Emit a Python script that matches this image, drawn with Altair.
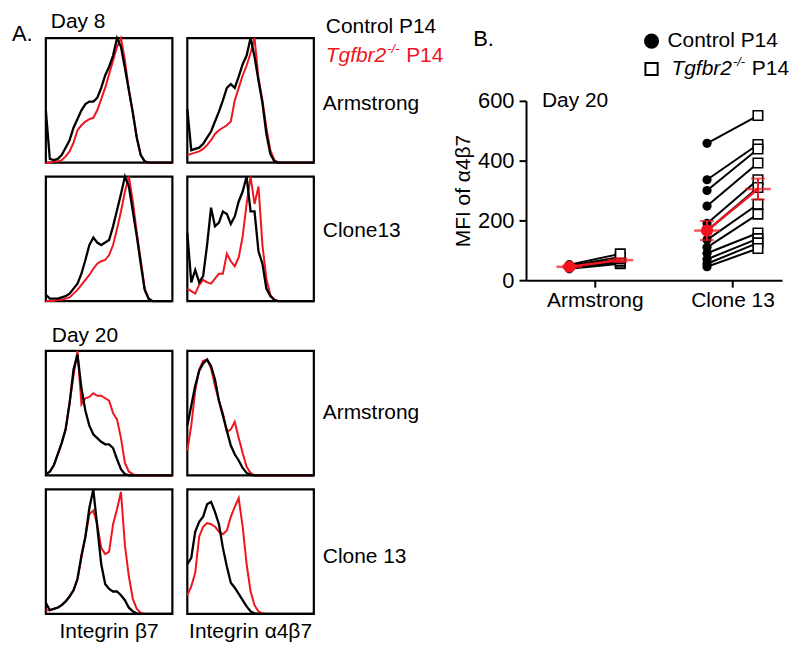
import altair as alt
import pandas as pd

FONT = "Liberation Sans"
RED = "#f0141e"
W, H = 127, 125
FS = 21

# ---------------- Panel A: histogram curves (fraction of panel max), 33 bins ----------------
bins = list(range(33))

d8_b7_arm_ctrl = [0.42, 0.03, 0.02, 0.03, 0.06, 0.12, 0.18, 0.28, 0.35, 0.42, 0.47, 0.49, 0.49, 0.52, 0.60, 0.70,
                  0.77, 0.86, 1.00, 0.93, 0.76, 0.58, 0.40, 0.20, 0.06, 0.01, 0, 0, 0, 0, 0, 0, 0]
d8_b7_arm_ko = [0, 0, 0.01, 0.01, 0.02, 0.05, 0.09, 0.16, 0.26, 0.30, 0.33, 0.35, 0.36, 0.42, 0.51, 0.60,
                0.71, 0.82, 0.93, 1.00, 0.82, 0.58, 0.40, 0.20, 0.06, 0.01, 0, 0, 0, 0, 0, 0, 0]

d8_a4b7_arm_ctrl = [0.43, 0.10, 0.11, 0.12, 0.15, 0.20, 0.25, 0.33, 0.41, 0.50, 0.60, 0.63, 0.60, 0.69, 0.79, 0.86,
                    1.00, 0.85, 0.66, 0.48, 0.23, 0.07, 0.01, 0, 0, 0, 0, 0, 0, 0, 0, 0, 0]
d8_a4b7_arm_ko = [0.06, 0.07, 0.08, 0.09, 0.11, 0.14, 0.18, 0.23, 0.26, 0.28, 0.30, 0.33, 0.50, 0.60, 0.70, 0.78,
                  0.88, 1.00, 0.68, 0.50, 0.28, 0.10, 0.02, 0, 0, 0, 0, 0, 0, 0, 0, 0, 0]

d8_b7_c13_ctrl = [0.05, 0.02, 0.02, 0.02, 0.03, 0.04, 0.06, 0.10, 0.14, 0.22, 0.33, 0.45, 0.51, 0.47, 0.45, 0.47,
                  0.49, 0.60, 0.73, 0.86, 1.00, 0.92, 0.72, 0.52, 0.30, 0.09, 0.02, 0, 0, 0, 0, 0, 0]
d8_b7_c13_ko = [0, 0, 0, 0.01, 0.01, 0.02, 0.03, 0.06, 0.09, 0.13, 0.17, 0.21, 0.26, 0.30, 0.32, 0.33,
                0.37, 0.45, 0.58, 0.72, 0.88, 1.00, 0.80, 0.55, 0.33, 0.10, 0.02, 0, 0, 0, 0, 0, 0]

d8_a4b7_c13_ctrl = [0.55, 0.15, 0.25, 0.15, 0.20, 0.45, 0.75, 0.60, 0.63, 0.72, 0.70, 0.62, 0.68, 0.80, 0.88, 1.00,
                    0.72, 0.72, 0.40, 0.30, 0.10, 0.04, 0.01, 0, 0, 0, 0, 0, 0, 0, 0, 0, 0]
d8_a4b7_c13_ko = [0.10, 0.08, 0.06, 0.13, 0.17, 0.15, 0.14, 0.18, 0.22, 0.22, 0.38, 0.32, 0.28, 0.35, 0.52, 0.78,
                  1.00, 0.78, 0.92, 0.45, 0.18, 0.05, 0.01, 0, 0, 0, 0, 0, 0, 0, 0, 0, 0]

d20_b7_arm_ctrl = [0.01, 0.03, 0.08, 0.17, 0.26, 0.37, 0.58, 0.85, 0.97, 0.70, 0.52, 0.40, 0.33, 0.30, 0.27, 0.25,
                   0.25, 0.22, 0.13, 0.05, 0.01, 0, 0, 0, 0, 0, 0, 0, 0, 0, 0, 0, 0]
d20_b7_arm_ko = [0.01, 0.03, 0.08, 0.17, 0.26, 0.37, 0.58, 0.80, 1.00, 0.57, 0.62, 0.63, 0.66, 0.64, 0.64, 0.62,
                 0.60, 0.50, 0.45, 0.30, 0.10, 0.03, 0.01, 0, 0, 0, 0, 0, 0, 0, 0, 0, 0]

d20_a4b7_arm_ctrl = [0.40, 0.56, 0.72, 0.84, 0.90, 0.93, 0.88, 0.77, 0.60, 0.48, 0.36, 0.24, 0.17, 0.12, 0.06, 0.02,
                     0.005, 0, 0, 0, 0, 0, 0, 0, 0, 0, 0, 0, 0, 0, 0, 0, 0]
d20_a4b7_arm_ko = [0.20, 0.40, 0.68, 0.85, 0.92, 0.93, 0.86, 0.72, 0.60, 0.50, 0.35, 0.37, 0.43, 0.30, 0.18, 0.07,
                   0.02, 0, 0, 0, 0, 0, 0, 0, 0, 0, 0, 0, 0, 0, 0, 0, 0]

d20_b7_c13_ctrl = [0.09, 0.03, 0.04, 0.05, 0.07, 0.10, 0.14, 0.19, 0.28, 0.47, 0.62, 0.85, 1.00, 0.70, 0.40, 0.24,
                   0.20, 0.18, 0.18, 0.15, 0.11, 0.05, 0.02, 0.005, 0, 0, 0, 0, 0, 0, 0, 0, 0]
d20_b7_c13_ko = [0.03, 0.03, 0.04, 0.05, 0.07, 0.10, 0.14, 0.19, 0.28, 0.45, 0.62, 0.80, 0.83, 0.72, 0.53, 0.48,
                 0.50, 0.72, 0.84, 0.98, 0.55, 0.30, 0.12, 0.04, 0.01, 0, 0, 0, 0, 0, 0, 0, 0]

d20_a4b7_c13_ctrl = [0.40, 0.45, 0.66, 0.74, 0.78, 0.88, 0.90, 0.82, 0.72, 0.53, 0.38, 0.25, 0.21, 0.16, 0.11, 0.06,
                     0.02, 0.005, 0, 0, 0, 0, 0, 0, 0, 0, 0, 0, 0, 0, 0, 0, 0]
d20_a4b7_c13_ko = [0.15, 0.22, 0.33, 0.62, 0.70, 0.73, 0.72, 0.70, 0.66, 0.64, 0.67, 0.78, 0.86, 0.93, 0.70, 0.40,
                   0.18, 0.07, 0.02, 0.005, 0, 0, 0, 0, 0, 0, 0, 0, 0, 0, 0, 0, 0]

# ---------------- Panel B: MFI of a4b7, Day 20 ----------------
groups = ["Armstrong", "Clone 13"]
arm_ctrl = [38, 42, 44, 46, 48, 52]
arm_ko = [55, 60, 65, 72, 78, 88]
c13_ctrl = [458, 336, 300, 248, 190, 165, 135, 110, 90, 70, 55, 45]
c13_ko = [551, 454, 439, 392, 336, 310, 254, 221, 158, 139, 125, 106]
mean_ctrl = [45, 166]
sem_ctrl = [4, 32]
mean_ko = [67, 305]
sem_ko = [6, 35]


def text_layer(txt, x, y, size=FS, color="black", style="normal", align="left", baseline="middle"):
    return alt.Chart(pd.DataFrame({"t": [txt]})).mark_text(
        font=FONT, fontSize=size, color=color, fontStyle=style, align=align, baseline=baseline
    ).encode(x=alt.value(x), y=alt.value(y), text="t:N")


def panel(black, red, extras=()):
    df = pd.DataFrame({"bin": bins, "black": black, "red": red})
    xs = alt.X("bin:Q", axis=None, scale=alt.Scale(domain=[0, 32], nice=False, zero=False))
    ysc = alt.Scale(domain=[0, 1], nice=False)
    r = alt.Chart(df).mark_line(color=RED, strokeWidth=2).encode(x=xs, y=alt.Y("red:Q", axis=None, scale=ysc))
    b = alt.Chart(df).mark_line(color="black", strokeWidth=2.3).encode(x=xs, y=alt.Y("black:Q", axis=None, scale=ysc))
    return alt.layer(r, b, *extras).properties(
        width=W, height=H, view=alt.ViewBackground(stroke="black", strokeWidth=2.2, fill="white"))


def spacer(h, w=W):
    return alt.Chart(pd.DataFrame({"t": [""]})).mark_text().encode(
        x=alt.value(0), y=alt.value(0), text="t:N").properties(
        width=w, height=h, view=alt.ViewBackground(strokeWidth=0))


def ko_label(x, y, color, size=FS):
    tw = 2.89 * size
    return [
        text_layer("Tgfbr2", x, y, size=size, color=color, style="italic"),
        text_layer("-/-", x + tw + 1, y - 7, size=13, color=color, style="italic"),
        text_layer("P14", x + tw + 20, y, size=size, color=color),
    ]


p1 = panel(d8_b7_arm_ctrl, d8_b7_arm_ko, [
    text_layer("A.", -34, -4, size=22),
    text_layer("Day 8", 5, -16),
])
p2 = panel(d8_a4b7_arm_ctrl, d8_a4b7_arm_ko, [
    text_layer("Control P14", 139, -11),
    *ko_label(139, 18, RED),
    text_layer("Armstrong", 136, 66),
])
p3 = panel(d8_b7_c13_ctrl, d8_b7_c13_ko)
p4 = panel(d8_a4b7_c13_ctrl, d8_a4b7_c13_ko, [text_layer("Clone13", 136, 55)])
p5 = panel(d20_b7_arm_ctrl, d20_b7_arm_ko, [text_layer("Day 20", 6, -15)])
p6 = panel(d20_a4b7_arm_ctrl, d20_a4b7_arm_ko, [text_layer("Armstrong", 136, 62)])
p7 = panel(d20_b7_c13_ctrl, d20_b7_c13_ko, [text_layer("Integrin β7", W / 2, H + 18, align="center")])
p8 = panel(d20_a4b7_c13_ctrl, d20_a4b7_c13_ko, [
    text_layer("Clone 13", 136, 68),
    text_layer("Integrin α4β7", W / 2, H + 18, align="center"),
])

Agrid = alt.concat(p1, p2, p3, p4, spacer(22), spacer(22), p5, p6, p7, p8,
                   columns=2, spacing=alt.RowColnumber(row=14, column=15), bounds="flush")

# ---------------- B chart ----------------
BW, BH = 257, 180
grp_x = {"Armstrong": 1.0, "Clone 13": 3.0}
off = {"Control": -0.37, "Tgfbr2": 0.37}
rows = []
for g, ctrl, ko in [("Armstrong", arm_ctrl, arm_ko), ("Clone 13", c13_ctrl, c13_ko)]:
    for k, (c, t) in enumerate(zip(ctrl, ko)):
        pid = f"{g}-{k}"
        rows.append(dict(pair=pid, group=g, geno="Control", mfi=c, xpos=grp_x[g] + off["Control"]))
        rows.append(dict(pair=pid, group=g, geno="Tgfbr2", mfi=t, xpos=grp_x[g] + off["Tgfbr2"]))
pts = pd.DataFrame(rows)

mrows = []
for i, g in enumerate(groups):
    mrows.append(dict(group=g, geno="Control", mean=mean_ctrl[i], lo=mean_ctrl[i] - sem_ctrl[i],
                      hi=mean_ctrl[i] + sem_ctrl[i], xpos=grp_x[g] + off["Control"]))
    mrows.append(dict(group=g, geno="Tgfbr2", mean=mean_ko[i], lo=mean_ko[i] - sem_ko[i],
                      hi=mean_ko[i] + sem_ko[i], xpos=grp_x[g] + off["Tgfbr2"]))
means = pd.DataFrame(mrows)

xaxis = alt.Axis(values=[1, 3], labelExpr="datum.value == 1 ? 'Armstrong' : 'Clone 13'", title="",
                 grid=False, labelFontSize=FS, labelPadding=2, tickSize=7, labelFlush=False)
yaxis = alt.Axis(values=[0, 200, 400, 600], title="MFI of α4β7", titleFontSize=FS, titleFontWeight="normal",
                 titlePadding=4, labelFontSize=22, labelPadding=5, tickSize=7, grid=False)
xB = alt.X("xpos:Q", scale=alt.Scale(domain=[0, 3.72], nice=False, zero=False), axis=xaxis)


def yB(field):
    return alt.Y(f"{field}:Q", scale=alt.Scale(domain=[0, 600], nice=False), axis=yaxis)


lines = alt.Chart(pts).mark_line(color="black", strokeWidth=2).encode(x=xB, y=yB("mfi"), detail="pair:N")
circles = alt.Chart(pts).transform_filter("datum.geno == 'Control'").mark_point(
    shape="circle", filled=True, color="black", size=85, opacity=1).encode(x=xB, y=yB("mfi"))
squares = alt.Chart(pts).transform_filter("datum.geno == 'Tgfbr2'").mark_point(
    shape="square", filled=True, fill="white", stroke="black", strokeWidth=1.6, size=90, opacity=1).encode(
    x=xB, y=yB("mfi"))
mline = alt.Chart(means).mark_line(color=RED, strokeWidth=2.4).encode(x=xB, y=yB("mean"), detail="group:N")
ebar = alt.Chart(means).mark_rule(color=RED, strokeWidth=2).encode(x=xB, y=yB("lo"), y2="hi:Q")
cap_lo = alt.Chart(means).mark_tick(color=RED, orient="horizontal", size=14, thickness=2).encode(x=xB, y=yB("lo"))
cap_hi = alt.Chart(means).mark_tick(color=RED, orient="horizontal", size=14, thickness=2).encode(x=xB, y=yB("hi"))
mtick = alt.Chart(means).mark_tick(color=RED, orient="horizontal", size=26, thickness=2.5).encode(x=xB, y=yB("mean"))
mdot = alt.Chart(means).transform_filter("datum.geno == 'Control'").mark_point(
    shape="circle", filled=True, color=RED, size=150, opacity=1).encode(x=xB, y=yB("mean"))

legend_circle = alt.Chart(pd.DataFrame({"t": ["c"]})).mark_point(
    shape="circle", filled=True, color="black", size=230, opacity=1).encode(x=alt.value(126), y=alt.value(-60))
legend_square = alt.Chart(pd.DataFrame({"t": ["s"]})).mark_point(
    shape="square", filled=False, color="black", strokeWidth=2, size=150, opacity=1).encode(
    x=alt.value(126), y=alt.value(-32))

Bchart = alt.layer(
    lines, circles, squares, mline, ebar, cap_lo, cap_hi, mtick, mdot,
    legend_circle, legend_square,
    text_layer("Control P14", 142, -60),
    *ko_label(146, -32, "black"),
    text_layer("B.", -53, -62, size=22),
    text_layer("Day 20", 16, 0),
).properties(width=BW, height=BH, view=alt.ViewBackground(strokeWidth=0))

Bcol = alt.vconcat(spacer(53, BW), Bchart, spacing=10, bounds="flush")

chart = alt.hconcat(Agrid, Bcol, spacing=482, bounds="flush").properties(
    padding={"left": 2, "top": 0, "right": 2, "bottom": 2},
    background="white",
).configure_view(strokeWidth=0).configure_axis(
    domainColor="black", domainWidth=2, tickColor="black", tickWidth=2,
    labelColor="black", titleColor="black", labelFont=FONT, titleFont=FONT,
)

chart.save("out.html", embed_options={"renderer": "svg", "actions": False})
